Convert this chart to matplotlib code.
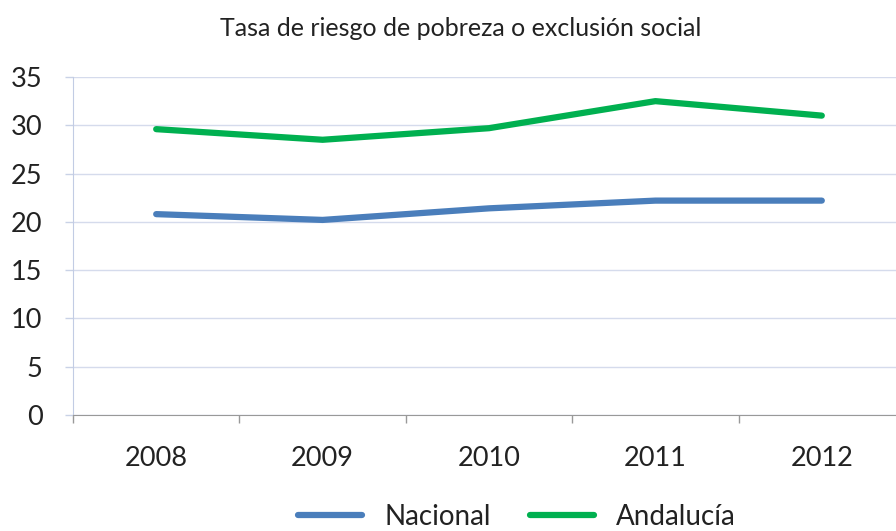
import matplotlib
matplotlib.use("Agg")
import matplotlib.pyplot as plt
from matplotlib.ticker import FixedLocator

years = ["2008", "2009", "2010", "2011", "2012"]
nacional = [20.8, 20.2, 21.4, 22.2, 22.2]
andalucia = [29.6, 28.5, 29.7, 32.5, 31.0]
yticks = [0, 5, 10, 15, 20, 25, 30, 35]

plt.rcParams['font.family'] = ['Lato', 'DejaVu Sans']

W, H = 896, 531
fig = plt.figure(figsize=(W / 100, H / 100), dpi=100)
left, right = 73 / W, 905 / W
bottom, top = 1 - 415 / H, 1 - 77 / H
ax = fig.add_axes([left, bottom, right - left, top - bottom])

x = list(range(len(years)))
ax.plot(x, nacional, color='#4A7EBB', lw=4.5, solid_capstyle='round', label='Nacional')
ax.plot(x, andalucia, color='#00B050', lw=4.5, solid_capstyle='round', label='Andalucía')

ax.set_xlim(-0.5, len(years) - 0.5)
ax.set_ylim(0, 35)
ax.set_yticks(yticks)
ax.set_yticklabels([str(v) for v in yticks], fontsize=19.5, color='#222222')
ax.set_xticks(x)
ax.set_xticklabels(years, fontsize=19.5, color='#222222')
ax.tick_params(axis='x', which='major', length=0, pad=22)
ax.xaxis.set_minor_locator(FixedLocator([i - 0.5 for i in range(len(years) + 1)]))
ax.tick_params(axis='x', which='minor', length=6, color='#999999', width=1)
ax.tick_params(axis='y', length=6, color='#C9D2E6', width=1, pad=16)
ax.grid(axis='y', color='#D5DBEC', lw=1)
ax.set_axisbelow(True)
for s in ['top', 'right']:
    ax.spines[s].set_visible(False)
ax.spines['left'].set_color('#C2CCE4')
ax.spines['bottom'].set_color('#999999')

fig.text(461 / W, 1 - 28 / H, 'Tasa de riesgo de pobreza o exclusión social',
         ha='center', va='center', fontsize=18, color='#222222')

leg = fig.legend(loc='center', bbox_to_anchor=(517 / W, 1 - 517 / H), ncol=2,
                 frameon=False, fontsize=20, handlelength=2.3, columnspacing=1.4,
                 handletextpad=0.8)
for t in leg.get_texts():
    t.set_color('#222222')

fig.savefig('out.png', dpi=100)
